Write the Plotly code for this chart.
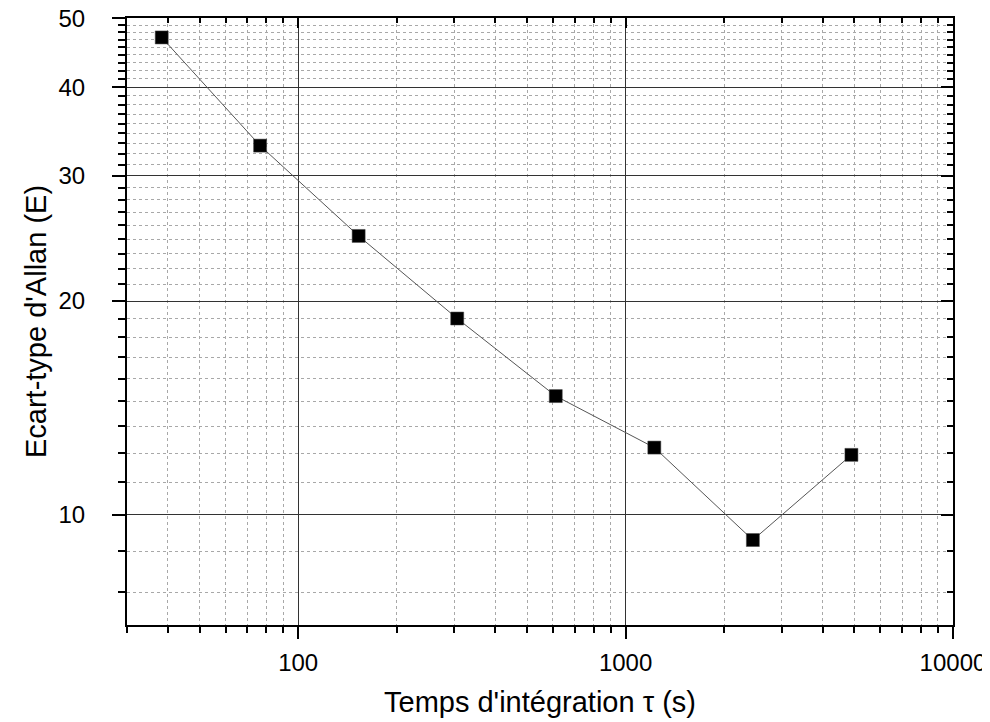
import plotly.graph_objects as go
import math

# intégration time tau (s) and Allan deviation (E)
tau = [38.3, 76.5, 153, 306, 612, 1224, 2448, 4896]
adev = [47.0, 33.1, 24.7, 18.9, 14.7, 12.44, 9.22, 12.15]

x_major = [100, 1000, 10000]
x_labels = ["100", "1000", "10000"]
y_major = [10, 20, 30, 40, 50]
y_labels = ["10", "20", "30", "40", "50"]

# minor ticks: log digits on x, Origin-style 9 equal parts on y
x_minor = [d * 10 ** e for e in (1, 2, 3) for d in range(2, 10) if 30 <= d * 10 ** e <= 10000]
y_minor = [a + k * 10 / 9 for a in (0, 10, 20, 30, 40) for k in range(1, 9)]
y_minor = [v for v in y_minor if 7 <= v <= 50]

FONT = "Liberation Sans, Arial, sans-serif"
xr = [math.log10(30), 4.0001]
yr = [math.log10(7), math.log10(50) + 0.0005]

fig = go.Figure()
fig.add_trace(go.Scatter(
    x=tau, y=adev, mode="lines+markers",
    line=dict(color="#555555", width=1),
    marker=dict(symbol="square", size=13, color="black", line=dict(color="#444", width=0.5)),
    showlegend=False,
))
fig.add_trace(go.Scatter(x=[], y=[], xaxis="x2", yaxis="y2", showlegend=False))

axis_common = dict(
    type="log", showline=True, linecolor="black", linewidth=2,
    tickcolor="black", tickwidth=2, zeroline=False, automargin=False,
)

# page body has an 8px margin, so the figure is sized 8px smaller
fig.update_layout(
    width=982, height=714,
    margin=dict(l=119, r=37, t=10, b=97),
    paper_bgcolor="white", plot_bgcolor="white",
    font=dict(family=FONT, color="black"),
    xaxis=dict(
        **axis_common, range=xr, tickmode="array", tickvals=x_major, ticktext=x_labels,
        ticks="outside", ticklen=12, tickfont=dict(size=24), ticklabelstandoff=3,
        ticklabeloverflow="allow",
        showgrid=True, gridcolor="#333333", gridwidth=1,
        minor=dict(tickmode="array", tickvals=x_minor, ticks="outside", ticklen=6,
                   tickwidth=2, tickcolor="black", showgrid=True,
                   gridcolor="#a8a8a8", gridwidth=1, griddash="dot"),
        title=dict(text="Temps d'intégration τ (s)", font=dict(size=29), standoff=17),
    ),
    yaxis=dict(
        **axis_common, range=yr, tickmode="array", tickvals=y_major, ticktext=y_labels,
        ticks="outside", ticklen=13, tickfont=dict(size=24), ticklabelstandoff=22,
        ticklabeloverflow="allow",
        showgrid=True, gridcolor="#333333", gridwidth=1,
        minor=dict(tickmode="array", tickvals=y_minor, ticks="outside", ticklen=7,
                   tickwidth=2, tickcolor="black", showgrid=True,
                   gridcolor="#a8a8a8", gridwidth=1, griddash="dot"),
        title=dict(text="Ecart-type d'Allan (E)", font=dict(size=29), standoff=3),
    ),
    xaxis2=dict(
        **axis_common, range=xr, overlaying="x", side="top", anchor="y2",
        tickmode="array", tickvals=x_major, ticks="inside", ticklen=10,
        showticklabels=False, showgrid=False,
        minor=dict(tickmode="array", tickvals=x_minor, ticks="inside", ticklen=5,
                   tickwidth=2, tickcolor="black", showgrid=False),
    ),
    yaxis2=dict(
        **axis_common, range=yr, overlaying="y", side="right", anchor="x2",
        tickmode="array", tickvals=y_major, ticks="inside", ticklen=12,
        showticklabels=False, showgrid=False,
        minor=dict(tickmode="array", tickvals=y_minor, ticks="inside", ticklen=6,
                   tickwidth=2, tickcolor="black", showgrid=False),
    ),
)

fig.write_html("out.html")
